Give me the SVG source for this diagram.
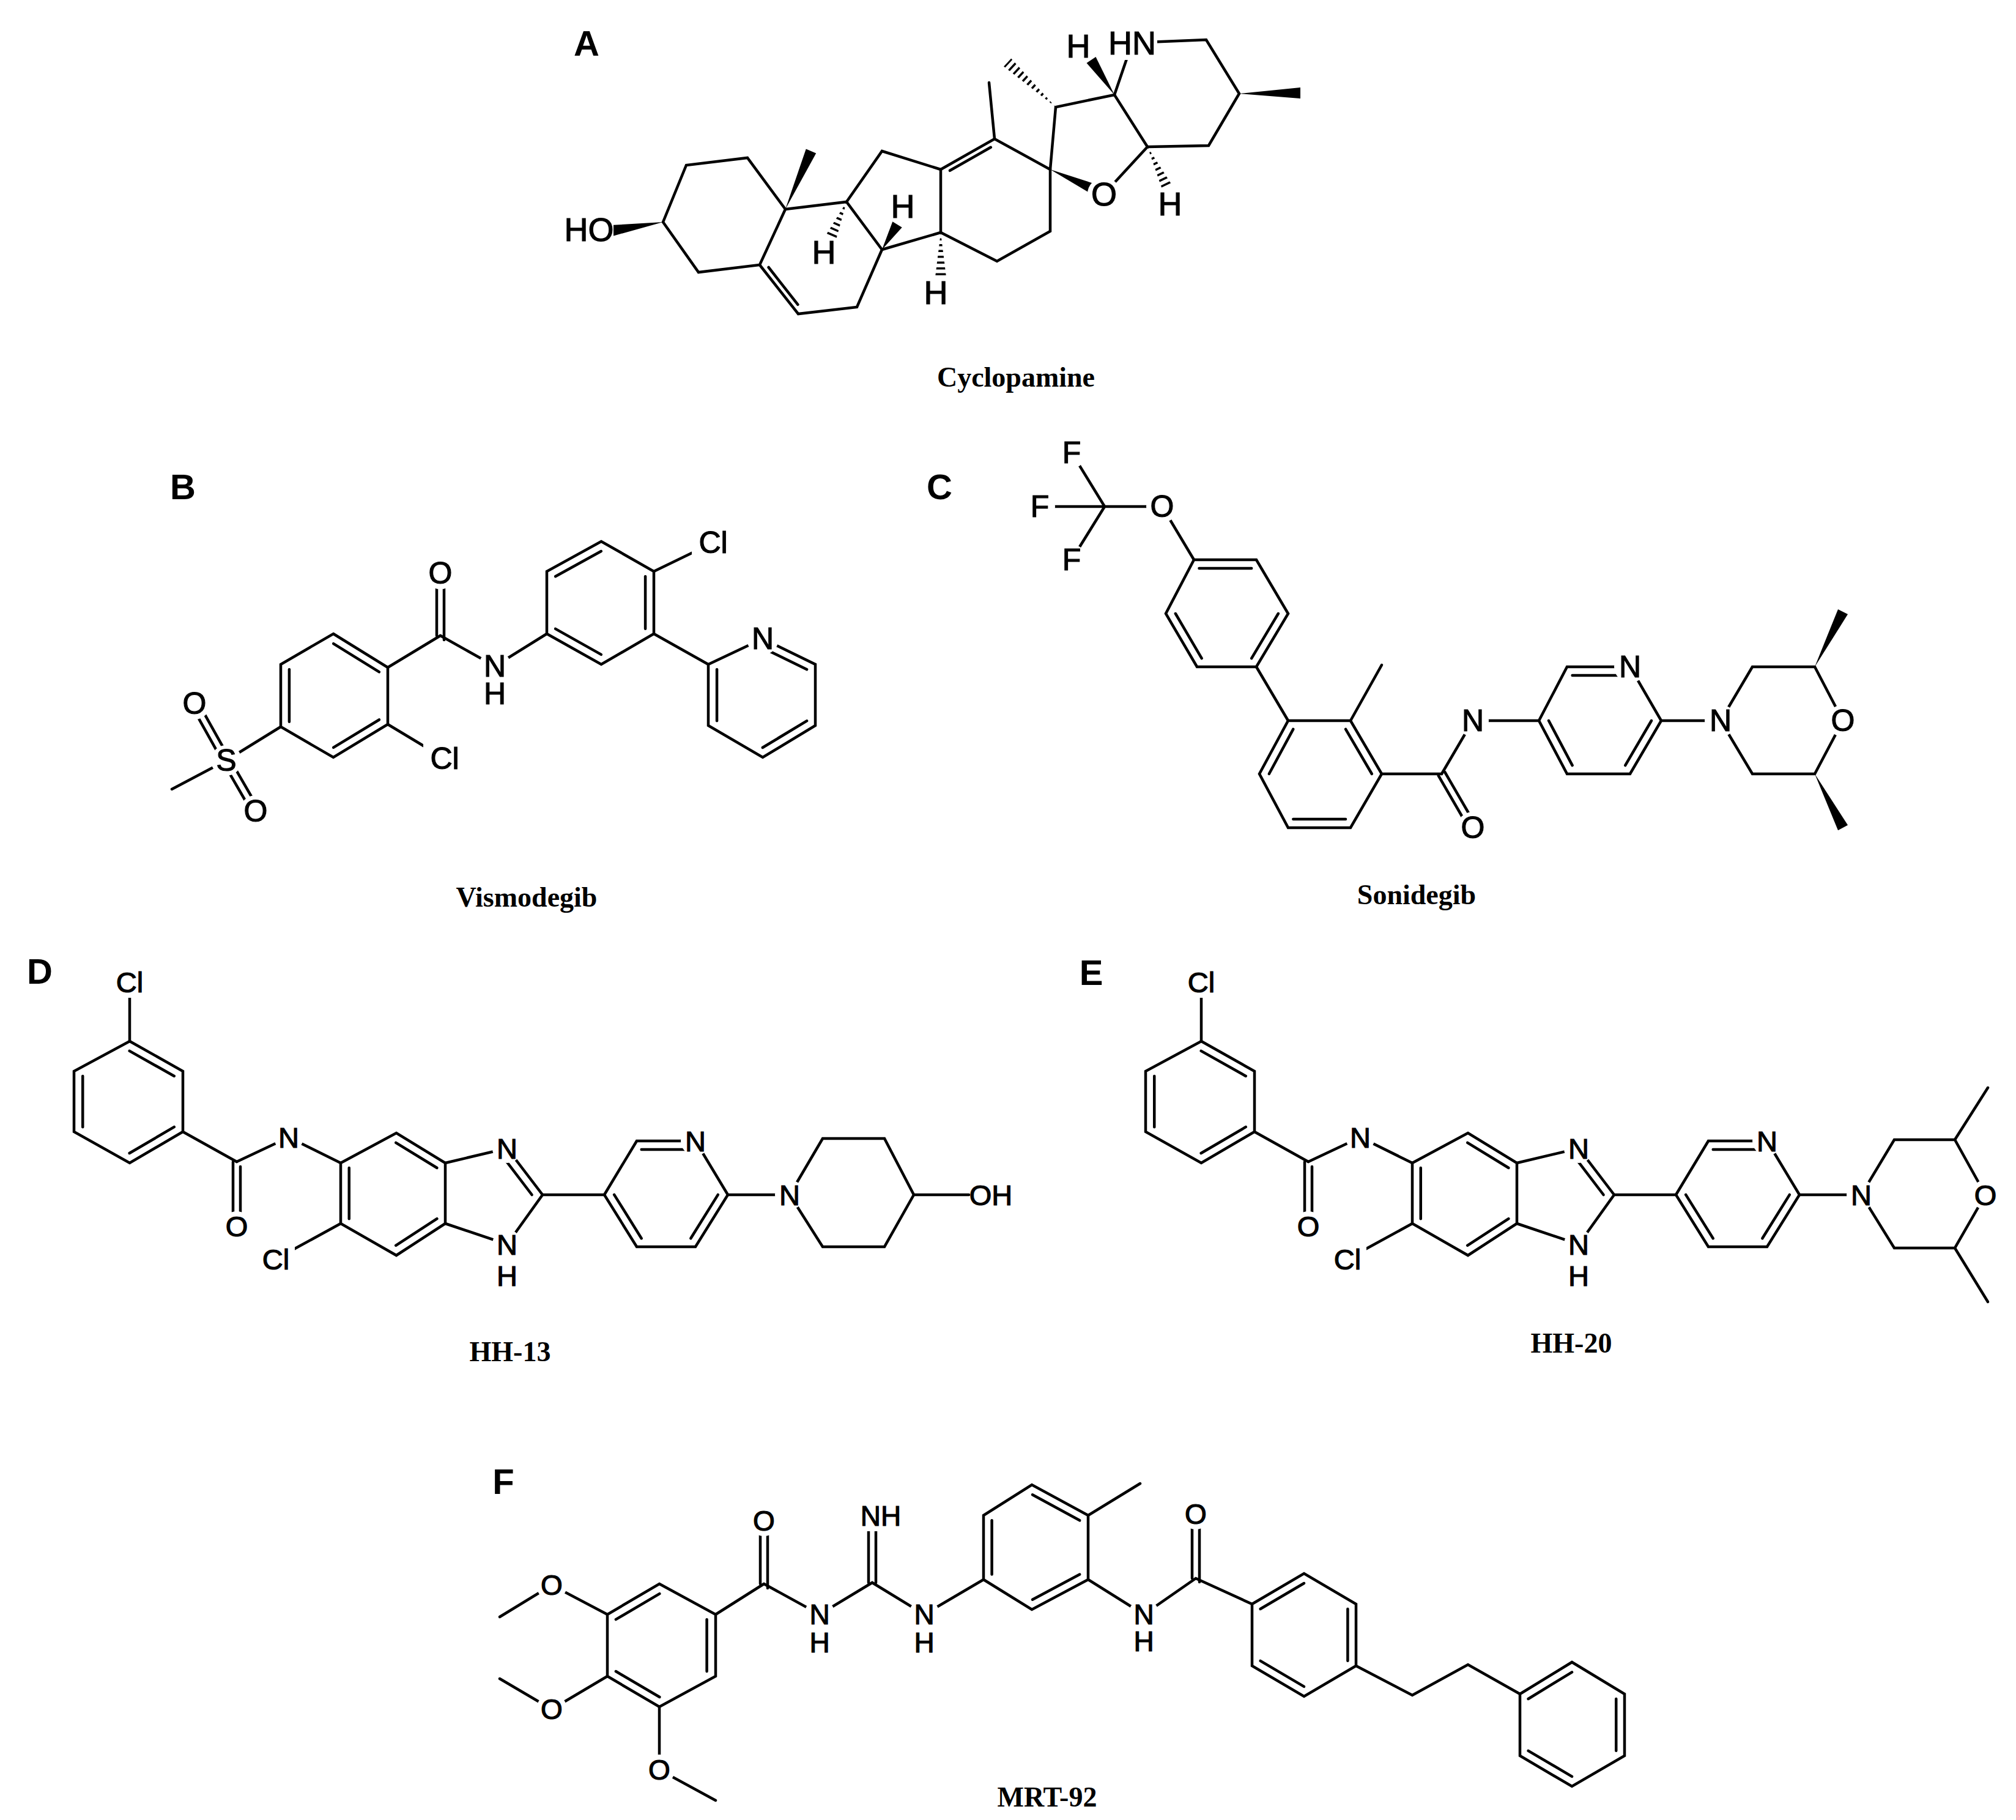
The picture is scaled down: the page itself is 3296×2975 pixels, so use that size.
<svg xmlns="http://www.w3.org/2000/svg" xmlns:xlink="http://www.w3.org/1999/xlink" width="3296" height="2975" viewBox="0 0 3296 2975">
<style>
.b{stroke:#000;stroke-width:4.5;fill:none;stroke-linecap:round}
.i line{stroke:#000;stroke-width:4.5;vector-effect:non-scaling-stroke;stroke-linecap:round}
.w{fill:#000;stroke:none}
.h{stroke:#000;stroke-width:22;stroke-dasharray:3.5 6;fill:none}
.bg{fill:#fff;stroke:#fff;stroke-width:6}
.t{font-family:"Liberation Sans",Arial,sans-serif;text-anchor:middle;dominant-baseline:central;fill:#000;stroke:#000;stroke-width:1.2}
.a{font-size:54px}.m{font-size:50px}.s{font-size:47px}.f{font-size:46px}
.p{font-family:"Liberation Sans",Arial,sans-serif;font-weight:bold;font-size:58px;text-anchor:middle;dominant-baseline:central}
.c{font-family:"Liberation Serif","Times New Roman",serif;font-weight:bold;font-size:46px;text-anchor:middle;dominant-baseline:central}
</style>
<defs>
<clipPath id="h1"><polygon points="1384,330 1367.2,390.6 1350.8,383.4"/></clipPath>
<clipPath id="h2"><polygon points="1538,380 1547,453 1529,453"/></clipPath>
<clipPath id="h3"><polygon points="1726,175 1653.1,95.4 1640.9,108.6"/></clipPath>
<clipPath id="h4"><polygon points="1876,240 1900.9,311.9 1917.1,304.1"/></clipPath>
<g id="hhcore">
<g class="b">
<line x1="212" y1="1605" x2="212" y2="1702"/>
<polygon points="212,1702 299,1751 299,1850 212,1901 121,1850 121,1751"/>
<line x1="299" y1="1850" x2="387" y2="1899"/>
<line x1="381" y1="1899" x2="381" y2="2004"/><line x1="393" y1="1907" x2="393" y2="2004"/>
<line x1="387" y1="1899" x2="472" y2="1859"/><line x1="472" y1="1859" x2="557" y2="1901"/>
<polygon points="557,1901 648,1852 728,1901 728,2000 648,2052 557,2000"/>
<line x1="557" y1="2000" x2="451" y2="2058"/>
<polyline points="728,1901 829,1877 887,1953 829,2034 728,2000"/>
<line x1="887" y1="1953" x2="988" y2="1953"/>
<polygon points="988,1953 1041,1865 1137,1865 1190,1953 1137,2038 1041,2038"/>
<line x1="1190" y1="1953" x2="1291" y2="1953"/>
</g>
<g class="i" transform="translate(210,1801) scale(0.84) translate(-210,-1801)">
<line x1="212" y1="1702" x2="299" y2="1751"/><line x1="299" y1="1850" x2="212" y2="1901"/><line x1="121" y1="1850" x2="121" y2="1751"/></g>
<g class="i" transform="translate(643,1951) scale(0.84) translate(-643,-1951)">
<line x1="557" y1="2000" x2="557" y2="1901"/><line x1="648" y1="1852" x2="728" y2="1901"/><line x1="728" y1="2000" x2="648" y2="2052"/></g>
<g class="i" transform="translate(800,1953) scale(0.8) translate(-800,-1953)"><line x1="829" y1="1877" x2="887" y2="1953"/></g>
<g class="i" transform="translate(1089,1952) scale(0.84) translate(-1089,-1952)">
<line x1="1041" y1="1865" x2="1137" y2="1865"/><line x1="1190" y1="1953" x2="1137" y2="2038"/><line x1="1041" y1="2038" x2="988" y2="1953"/></g>
<g class="bg">
<rect x="184" y="1582" width="56" height="46"/><circle cx="387" cy="2004" r="21"/><circle cx="472" cy="1859" r="21"/><rect x="423" y="2035" width="56" height="46"/>
<circle cx="829" cy="1877" r="21"/><circle cx="829" cy="2034" r="21"/><circle cx="829" cy="2085" r="20"/><circle cx="1137" cy="1865" r="21"/>
</g>
<g class="t s">
<text x="212" y="1605">Cl</text><text x="387" y="2004">O</text><text x="472" y="1859">N</text><text x="451" y="2058">Cl</text>
<text x="829" y="1877">N</text><text x="829" y="2034">N</text><text x="829" y="2085">H</text><text x="1137" y="1865">N</text>
</g>
</g>
</defs>

<g id="panelA">
<text class="p" x="959" y="70">A</text>
<g id="cyclopamine">
<g class="b">
<polygon points="1084,363 1122,270 1222,258 1284,342 1242,433 1142,445"/>
<polyline points="1242,433 1305,513 1401,502 1442,408 1384,330 1284,342"/>
<polyline points="1384,330 1442,247 1538,277 1538,380 1442,408"/>
<polyline points="1538,277 1626,227 1717,277 1717,378 1630,427 1538,380"/>
<line x1="1256.6" y1="437" x2="1304.4" y2="497.8"/>
<line x1="1553" y1="278.8" x2="1619.8" y2="240.8"/>
<line x1="1626" y1="227" x2="1617" y2="135"/>
<polyline points="1717,277 1726,175 1822,155 1876,240 1805,317"/>
<line x1="1822" y1="155" x2="1851" y2="70"/>
<polyline points="1851,70 1972,65 2026,153 1976,238 1876,240"/>
</g>
<polygon class="w" points="1084,363 1001.5,385.9 998.5,368.1"/>
<polygon class="w" points="1284,342 1334.2,250.6 1317.8,243.4"/>
<polygon class="w" points="1442,408 1474.7,371.7 1459.3,362.3"/>
<polygon class="w" points="1717,277 1786.3,318.2 1793.7,301.8"/>
<polygon class="w" points="1822,155 1791.5,93 1776.5,103"/>
<polygon class="w" points="2026,153 2126,143 2126,161"/>
<g clip-path="url(#h1)"><line class="h" x1="1384" y1="330" x2="1359" y2="387"/></g>
<g clip-path="url(#h2)"><line class="h" x1="1538" y1="380" x2="1538" y2="453"/></g>
<g clip-path="url(#h3)"><line class="h" x1="1726" y1="175" x2="1647" y2="102"/></g>
<g clip-path="url(#h4)"><line class="h" x1="1876" y1="240" x2="1909" y2="308"/></g>
<g class="bg">
<rect x="928" y="350" width="72" height="50"/><circle cx="1347" cy="412" r="22"/><circle cx="1476" cy="337" r="22"/><circle cx="1530" cy="478" r="22"/>
<circle cx="1805" cy="317" r="24"/><circle cx="1763" cy="75" r="22"/><rect x="1815" y="45" width="74" height="50"/><circle cx="1913" cy="333" r="22"/>
</g>
<g class="t a">
<text x="963" y="375">HO</text><text x="1347" y="412">H</text><text x="1476" y="337">H</text><text x="1530" y="478">H</text>
<text x="1805" y="317">O</text><text x="1763" y="75">H</text><text x="1851" y="70">HN</text><text x="1913" y="333">H</text>
</g>
</g>
<text class="c" x="1661" y="616">Cyclopamine</text>
</g>

<g id="panelB">
<text class="p" x="299" y="795">B</text>
<g id="vismodegib">
<g class="b">
<polygon points="545,1036 634,1091 634,1184 545,1238 459,1188 459,1086"/>
<line x1="634" y1="1091" x2="720" y2="1039"/>
<line x1="714" y1="1039" x2="714" y2="937"/><line x1="726" y1="1046" x2="726" y2="937"/>
<polyline points="720,1039 809,1089 894,1036"/>
<line x1="634" y1="1184" x2="727" y2="1240"/>
<polyline points="459,1188 370,1243 281,1290"/>
<line x1="375.2" y1="1240.1" x2="323.2" y2="1147.1"/><line x1="364.8" y1="1245.9" x2="312.8" y2="1152.9"/>
<line x1="375.2" y1="1240" x2="423.2" y2="1323"/><line x1="364.8" y1="1246" x2="412.8" y2="1329"/>
<polygon points="894,1036 983,1086 1069,1036 1069,934 983,885 894,934"/>
<line x1="1069" y1="934" x2="1166" y2="887"/>
<line x1="1069" y1="1036" x2="1158" y2="1086"/>
<polygon points="1158,1086 1247,1044 1333,1086 1333,1186 1247,1238 1158,1186"/>
</g>
<g class="i" transform="translate(546,1137) scale(0.84) translate(-546,-1137)">
<line x1="545" y1="1036" x2="634" y2="1091"/><line x1="634" y1="1184" x2="545" y2="1238"/><line x1="459" y1="1188" x2="459" y2="1086"/></g>
<g class="i" transform="translate(982,985) scale(0.84) translate(-982,-985)">
<line x1="894" y1="1036" x2="983" y2="1086"/><line x1="1069" y1="1036" x2="1069" y2="934"/><line x1="983" y1="885" x2="894" y2="934"/></g>
<g class="i" transform="translate(1246,1138) scale(0.84) translate(-1246,-1138)">
<line x1="1247" y1="1044" x2="1333" y2="1086"/><line x1="1333" y1="1186" x2="1247" y2="1238"/><line x1="1158" y1="1186" x2="1158" y2="1086"/></g>
<g class="bg">
<circle cx="720" cy="937" r="23"/><circle cx="809" cy="1089" r="23"/><circle cx="809" cy="1134" r="21"/><rect x="695" y="1215" width="64" height="50"/>
<circle cx="370" cy="1243" r="22"/><circle cx="318" cy="1150" r="23"/><circle cx="418" cy="1326" r="23"/><rect x="1134" y="862" width="64" height="50"/><circle cx="1247" cy="1044" r="23"/>
</g>
<g class="t m">
<text x="720" y="937">O</text><text x="809" y="1089">N</text><text x="809" y="1134">H</text><text x="727" y="1240">Cl</text>
<text x="370" y="1243">S</text><text x="318" y="1150">O</text><text x="418" y="1326">O</text><text x="1166" y="887">Cl</text><text x="1247" y="1044">N</text>
</g>
</g>
<text class="c" x="861" y="1466">Vismodegib</text>
</g>

<g id="panelC">
<text class="p" x="1536" y="795">C</text>
<g id="sonidegib">
<g class="b">
<line x1="1806" y1="828" x2="1752" y2="740"/><line x1="1806" y1="828" x2="1700" y2="828"/><line x1="1806" y1="828" x2="1752" y2="915"/>
<polyline points="1806,828 1900,828 1952,915"/>
<polygon points="1952,915 2054,915 2106,1003 2054,1090 1957,1090 1906,1003"/>
<line x1="2054" y1="1090" x2="2106" y2="1178"/>
<polygon points="2106,1178 2208,1178 2259,1265 2208,1353 2106,1353 2059,1265"/>
<line x1="2208" y1="1178" x2="2259" y2="1087"/>
<line x1="2259" y1="1265" x2="2357" y2="1265"/>
<line x1="2362.2" y1="1262" x2="2413.2" y2="1350"/><line x1="2351.8" y1="1268" x2="2402.8" y2="1356"/>
<polyline points="2357,1265 2408,1178 2516,1178"/>
<polygon points="2516,1178 2562,1090 2665,1090 2716,1178 2665,1265 2562,1265"/>
<line x1="2716" y1="1178" x2="2813" y2="1178"/>
<polygon points="2813,1178 2865,1090 2967,1090 3013,1178 2967,1265 2865,1265"/>
</g>
<g class="i" transform="translate(2005,1003) scale(0.84) translate(-2005,-1003)">
<line x1="1952" y1="915" x2="2054" y2="915"/><line x1="2106" y1="1003" x2="2054" y2="1090"/><line x1="1957" y1="1090" x2="1906" y2="1003"/></g>
<g class="i" transform="translate(2158,1265) scale(0.84) translate(-2158,-1265)">
<line x1="2208" y1="1178" x2="2259" y2="1265"/><line x1="2208" y1="1353" x2="2106" y2="1353"/><line x1="2059" y1="1265" x2="2106" y2="1178"/></g>
<g class="i" transform="translate(2616,1178) scale(0.84) translate(-2616,-1178)">
<line x1="2562" y1="1090" x2="2665" y2="1090"/><line x1="2716" y1="1178" x2="2665" y2="1265"/><line x1="2562" y1="1265" x2="2516" y2="1178"/></g>
<polygon class="w" points="2967,1090 3021,1004.1 3005,995.9"/>
<polygon class="w" points="2967,1265 3021,1348.8 3005,1357.2"/>
<g class="bg">
<circle cx="1752" cy="740" r="22"/><circle cx="1700" cy="828" r="22"/><circle cx="1752" cy="915" r="22"/><circle cx="1900" cy="828" r="23"/>
<circle cx="2408" cy="1178" r="23"/><circle cx="2408" cy="1353" r="23"/><circle cx="2665" cy="1090" r="23"/><circle cx="2813" cy="1178" r="23"/><circle cx="3013" cy="1178" r="23"/>
</g>
<g class="t m">
<text x="1752" y="740">F</text><text x="1700" y="828">F</text><text x="1752" y="915">F</text><text x="1900" y="828">O</text>
<text x="2408" y="1178">N</text><text x="2408" y="1353">O</text><text x="2665" y="1090">N</text><text x="2813" y="1178">N</text><text x="3013" y="1178">O</text>
</g>
</g>
<text class="c" x="2316" y="1462">Sonidegib</text>
</g>

<g id="panelD">
<text class="p" x="65" y="1587">D</text>
<g id="hh13">
<use xlink:href="#hhcore"/>
<g class="b">
<polygon points="1291,1953 1345,1861 1446,1861 1494,1953 1446,2038 1345,2038"/>
<line x1="1494" y1="1953" x2="1584" y2="1953"/>
</g>
<g class="bg"><circle cx="1291" cy="1953" r="21"/></g>
<g class="t s"><text x="1620" y="1953">OH</text><text x="1291" y="1953">N</text></g>
</g>
<text class="c" x="834" y="2209">HH-13</text>
</g>

<g id="panelE">
<text class="p" x="1784" y="1589">E</text>
<g id="hh20">
<use xlink:href="#hhcore" transform="translate(1752,0)"/>
<g class="b">
<polygon points="3043,1953 3097,1863 3196,1863 3246,1953 3196,2040 3097,2040"/>
<line x1="3196" y1="1863" x2="3250" y2="1778"/><line x1="3196" y1="2040" x2="3250" y2="2128"/>
</g>
<g class="bg"><circle cx="3043" cy="1953" r="21"/><circle cx="3246" cy="1953" r="21"/></g>
<g class="t s"><text x="3043" y="1953">N</text><text x="3246" y="1953">O</text></g>
</g>
<text class="c" x="2569" y="2195">HH-20</text>
</g>

<g id="panelF">
<text class="p" x="823" y="2421">F</text>
<g id="mrt92">
<g class="b">
<polygon points="1078,2589 1170,2639 1170,2740 1078,2790 993,2740 993,2639"/>
<polyline points="993,2639 902,2591 817,2643"/>
<polyline points="993,2740 902,2794 817,2744"/>
<polyline points="1078,2790 1078,2893 1170,2943"/>
<line x1="1170" y1="2639" x2="1249" y2="2589"/>
<line x1="1243" y1="2589" x2="1243" y2="2486"/><line x1="1255" y1="2596" x2="1255" y2="2486"/>
<polyline points="1249,2589 1340,2639 1426,2587 1511,2639 1608,2582"/>
<line x1="1420" y1="2587" x2="1420" y2="2490"/><line x1="1432" y1="2587" x2="1432" y2="2490"/>
<polygon points="1608,2582 1687,2631 1779,2582 1779,2477 1687,2427 1608,2477"/>
<line x1="1779" y1="2477" x2="1864" y2="2425"/>
<polyline points="1779,2582 1870,2639 1955,2580 2047,2622"/>
<line x1="1949" y1="2580" x2="1949" y2="2475"/><line x1="1961" y1="2586" x2="1961" y2="2475"/>
<polygon points="2047,2622 2132,2572 2217,2622 2217,2723 2132,2773 2047,2723"/>
<polyline points="2217,2723 2309,2771 2400,2721 2485,2769"/>
<polygon points="2485,2769 2570,2717 2656,2769 2656,2870 2570,2920 2485,2870"/>
</g>
<g class="i" transform="translate(1080,2690) scale(0.84) translate(-1080,-2690)">
<line x1="1078" y1="2589" x2="993" y2="2639"/><line x1="993" y1="2740" x2="1078" y2="2790"/><line x1="1170" y1="2639" x2="1170" y2="2740"/></g>
<g class="i" transform="translate(1693,2529) scale(0.84) translate(-1693,-2529)">
<line x1="1687" y1="2631" x2="1779" y2="2582"/><line x1="1608" y1="2477" x2="1608" y2="2582"/><line x1="1687" y1="2427" x2="1779" y2="2477"/></g>
<g class="i" transform="translate(2132,2672) scale(0.84) translate(-2132,-2672)">
<line x1="2047" y1="2622" x2="2132" y2="2572"/><line x1="2217" y1="2622" x2="2217" y2="2723"/><line x1="2132" y1="2773" x2="2047" y2="2723"/></g>
<g class="i" transform="translate(2570,2819) scale(0.84) translate(-2570,-2819)">
<line x1="2485" y1="2769" x2="2570" y2="2717"/><line x1="2656" y1="2769" x2="2656" y2="2870"/><line x1="2570" y1="2920" x2="2485" y2="2870"/></g>
<g class="bg">
<circle cx="902" cy="2591" r="22"/><circle cx="902" cy="2794" r="22"/><circle cx="1078" cy="2893" r="22"/><circle cx="1249" cy="2486" r="22"/>
<circle cx="1340" cy="2639" r="22"/><circle cx="1340" cy="2685" r="20"/><rect x="1408" y="2456" width="64" height="44"/>
<circle cx="1511" cy="2639" r="22"/><circle cx="1511" cy="2685" r="20"/><circle cx="1870" cy="2639" r="22"/><circle cx="1870" cy="2683" r="20"/><circle cx="1955" cy="2475" r="22"/>
</g>
<g class="t f">
<text x="902" y="2591">O</text><text x="902" y="2794">O</text><text x="1078" y="2893">O</text><text x="1249" y="2486">O</text>
<text x="1340" y="2639">N</text><text x="1340" y="2685">H</text>
<text x="1440" y="2478">NH</text>
<text x="1511" y="2639">N</text><text x="1511" y="2685">H</text>
<text x="1870" y="2639">N</text><text x="1870" y="2683">H</text><text x="1955" y="2475">O</text>
</g>
</g>
<text class="c" x="1712" y="2937">MRT-92</text>
</g>
</svg>
